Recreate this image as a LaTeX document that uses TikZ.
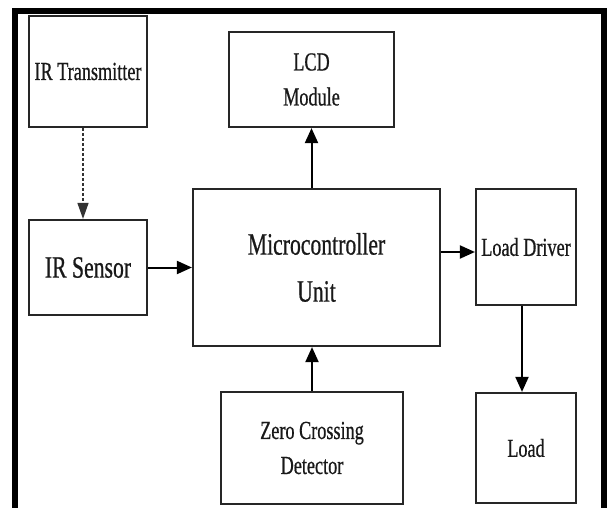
\documentclass[tikz,border=0pt]{standalone}
\usepackage{fontspec}
\setmainfont{Liberation Serif}[FakeStretch=0.7,FakeBold=0.6]
\usetikzlibrary{arrows.meta}
\begin{document}
\begin{tikzpicture}[x=1pt,y=-1pt,
  blk/.style={draw=black!85, line width=2.2pt, rectangle, inner sep=0pt, align=center,
    font=\fontsize{26pt}{35pt}\selectfont, text=black!90},
  bigtxt/.style={font=\fontsize{31pt}{47pt}\selectfont},
  arr/.style={line width=2pt, black, -{Triangle[length=15pt,width=13pt]}},
  darr/.style={line width=1.3pt, black!80, dash pattern=on 3pt off 2pt,
    -{Triangle[length=16pt,width=11pt]}}
]
\useasboundingbox (0,0) rectangle (607,508);
\fill[white] (0,0) rectangle (607,508);

% frame
\draw[line width=6pt, black, line join=miter] (14.5,520) -- (14.5,11) -- (604,11) -- (604,520);

% blocks
\node[blk, minimum width=118pt, minimum height=111pt] (tx) at (88,71.5) {IR Transmitter};
\node[blk, minimum width=165pt, minimum height=95pt] (lcd) at (311.5,79.5) {LCD\\Module};
\node[blk, bigtxt, minimum width=118pt, minimum height=95pt] (sen) at (88,267.5) {IR Sensor};
\node[blk, bigtxt, minimum width=247pt, minimum height=157pt] (mcu) at (316.5,267.5) {Microcontroller\\Unit};
\node[blk, minimum width=100pt, minimum height=116pt] (drv) at (526,247) {Load Driver};
\node[blk, minimum width=182pt, minimum height=112pt] (zcd) at (312,448) {Zero Crossing\\Detector};
\node[blk, minimum width=100pt, minimum height=110pt] (load) at (526,448) {Load};

% helper coordinates
\coordinate (txo) at ([xshift=-5pt]tx.south);
\coordinate (seni) at ([xshift=-5pt]sen.north);
\coordinate (drvi) at ([yshift=-5pt]drv.west);
\coordinate (drvo) at ([xshift=-4pt]drv.south);

% connectors
\draw[darr] (txo) -- (seni);
\draw[arr] (sen.east) -- (mcu.west |- sen.east);
\draw[arr] (mcu.north -| lcd.south) -- (lcd.south);
\draw[arr] (zcd.north) -- (zcd.north |- mcu.south);
\draw[arr] (mcu.east |- drvi) -- (drvi);
\draw[arr] (drvo) -- (drvo |- load.north);
\end{tikzpicture}
\end{document}
